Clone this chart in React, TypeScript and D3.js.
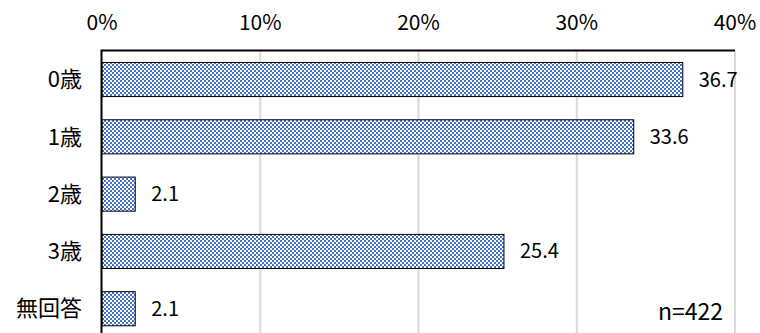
import React from "react";
import * as d3 from "d3";

const categories = ["0歳", "1歳", "2歳", "3歳", "無回答"];
const values = [36.7, 33.6, 2.1, 25.4, 2.1];
const ticks = [0, 10, 20, 30, 40];
const note = "n=422";

export default function App() {
  const W = 760, H = 333;
  const left = 102, right = 735, top = 51, step = 57.25;
  const x = d3.scaleLinear().domain([0, 40]).range([left, right]);
  const y = d3.scaleBand().domain(categories).range([top, top + step * categories.length]).paddingInner(0.405).paddingOuter(0.2);
  const font = "'Noto Sans CJK JP', 'Noto Sans', sans-serif";
  return (
    <svg width={W} height={H} style={{ position: "absolute", left: 0, top: 0, background: "#fff" }}>
      <defs>
        <pattern id="chk" width={4} height={4} patternUnits="userSpaceOnUse">
          <rect width={4} height={4} fill="#fff" />
          <rect x={0} y={0} width={2} height={2} fill="#4472C4" />
          <rect x={2} y={2} width={2} height={2} fill="#4472C4" />
        </pattern>
      </defs>
      {ticks.slice(1).map((t) => (
        <line key={t} x1={x(t)} x2={x(t)} y1={top} y2={H} stroke="#d9d9d9" strokeWidth={2} />
      ))}
      {ticks.map((t) => (
        <text key={t} x={x(t)} y={30} textAnchor="middle" fontFamily={font} fontSize={21} fill="#000">
          {t}%
        </text>
      ))}
      {categories.map((c, i) => (
        <g key={c}>
          <rect x={x(0)} y={y(c)!} width={x(values[i]) - x(0)} height={y.bandwidth()} fill="url(#chk)" stroke="#000" strokeWidth={1} />
          <text x={82} y={y(c)! + y.bandwidth() / 2} dy="0.35em" textAnchor="end" fontFamily={font} fontSize={22} fill="#000">
            {c}
          </text>
          <text x={x(values[i]) + 16} y={y(c)! + y.bandwidth() / 2} dy="0.35em" fontFamily={font} fontSize={20} fill="#000">
            {values[i].toFixed(1)}
          </text>
        </g>
      ))}
      <line x1={left} x2={right} y1={top - 0.5} y2={top - 0.5} stroke="#000" strokeWidth={2} />
      <line x1={left - 0.5} x2={left - 0.5} y1={top - 1.5} y2={H} stroke="#000" strokeWidth={2} />
      <text x={723} y={320} textAnchor="end" fontFamily={font} fontSize={23} fill="#000">
        {note}
      </text>
    </svg>
  );
}
